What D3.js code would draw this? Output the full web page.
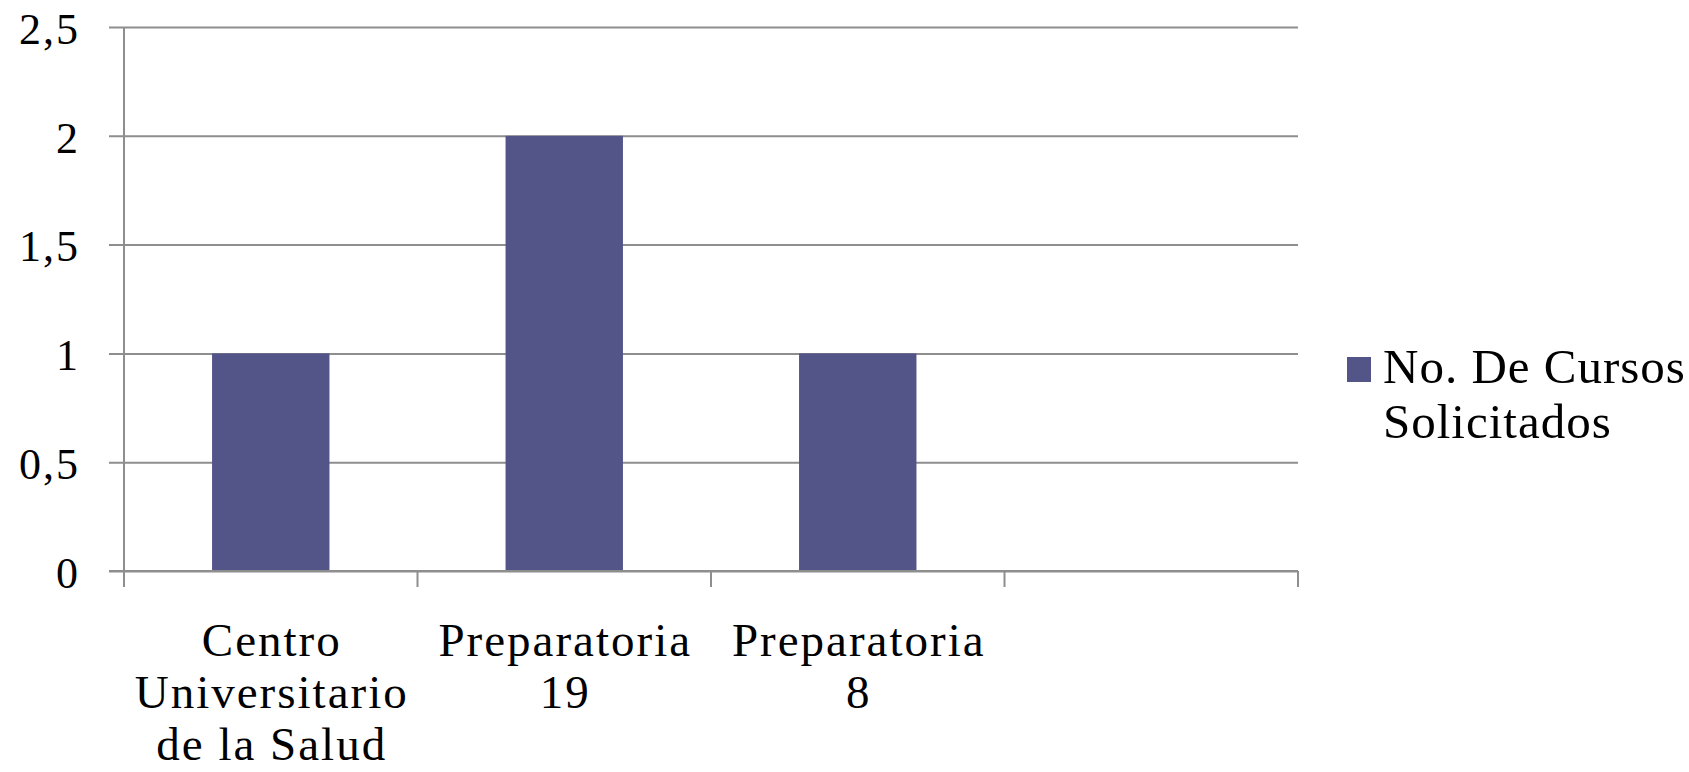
<!DOCTYPE html>
<html>
<head>
<meta charset="utf-8">
<script src="https://cdn.jsdelivr.net/npm/d3@7"></script>
<style>
  html, body { margin: 0; padding: 0; background: #fff; }
  svg { display: block; }
  text { font-family: "Liberation Serif", "DejaVu Serif", serif; fill: #000; }
</style>
</head>
<body>
<svg id="chart" width="1689" height="772"></svg>
<script>
// Data
const categories = ["Centro Universitario de la Salud", "Preparatoria 19", "Preparatoria 8", ""];
const categoryLabelLines = [["Centro", "Universitario", "de la Salud"], ["Preparatoria", "19"], ["Preparatoria", "8"], []];
const seriesName = "No. De Cursos Solicitados";
const legendLines = ["No. De Cursos", "Solicitados"];
const values = [1, 2, 1, null];
const yTicks = [0, 0.5, 1, 1.5, 2, 2.5];
const yTickLabels = ["0", "0,5", "1", "1,5", "2", "2,5"];

(function () {
const svg = d3.select("#chart");
const mL = 124, mR = 1298, mT = 27, mB = 571;
const gridColor = "#8e8e8e";
const barColor = "#535488";

const y = d3.scaleLinear().domain([0, 2.5]).range([mB, mT]);
const xSlots = d3.scaleBand().domain(categories.map((d, i) => i)).range([mL, mR]).padding(0);
const xBars = d3.scaleBand().domain(categories.map((d, i) => i)).range([mL, mR])
  .paddingInner(0.6).paddingOuter(0.3);

// gridlines + y tick marks
const yAxis = d3.axisLeft(y).tickValues(yTicks)
  .tickSize(-(mR - mL)).tickSizeOuter(0)
  .tickFormat((d, i) => yTickLabels[i]);
const gy = svg.append("g").attr("transform", `translate(${mL},0)`).call(yAxis);
gy.select(".domain").remove();
gy.selectAll(".tick line").attr("stroke", gridColor).attr("stroke-width", 2).attr("x1", -15);
gy.selectAll(".tick text").attr("x", -44).attr("dy", "0.37em")
  .style("font-size", "44px").style("letter-spacing", "2px")
  .style("font-family", "'Liberation Serif', serif").style("fill", "#000");

// y axis line
svg.append("line").attr("x1", mL).attr("x2", mL).attr("y1", mT).attr("y2", mB)
  .attr("stroke", gridColor).attr("stroke-width", 2);

// bars
svg.append("g").selectAll("rect")
  .data(values.map((v, i) => ({ v, i })).filter(d => d.v != null))
  .join("rect")
  .attr("x", d => xBars(d.i))
  .attr("width", xBars.bandwidth())
  .attr("y", d => y(d.v))
  .attr("height", d => y(0) - y(d.v))
  .attr("fill", barColor);

// x axis line
svg.append("line").attr("x1", mL - 15).attr("x2", mR).attr("y1", mB).attr("y2", mB)
  .attr("stroke", gridColor).attr("stroke-width", 2);

// category boundary ticks
const boundaries = categories.map((d, i) => xSlots(i)).concat([mR]);
svg.append("g").selectAll("line").data(boundaries).join("line")
  .attr("x1", d => d).attr("x2", d => d)
  .attr("y1", mB).attr("y2", mB + 16)
  .attr("stroke", gridColor).attr("stroke-width", 2);

// category labels
const lg = svg.append("g");
categories.forEach((c, i) => {
  const cx = xSlots(i) + xSlots.bandwidth() / 2 + 1;
  const t = lg.append("text").attr("text-anchor", "middle")
    .style("font-size", "47px").style("letter-spacing", "2px");
  categoryLabelLines[i].forEach((line, j) => {
    t.append("tspan").attr("x", cx).attr("y", 656 + j * 52).text(line);
  });
});

// legend
const leg = svg.append("g");
leg.append("rect").attr("x", 1347).attr("y", 357).attr("width", 24).attr("height", 25).attr("fill", barColor);
const lt = leg.append("text").style("font-size", "49px").style("letter-spacing", "1px");
legendLines.forEach((line, j) => {
  lt.append("tspan").attr("x", 1383).attr("y", 383 + j * 55).text(line);
});
})();
</script>
</body>
</html>
